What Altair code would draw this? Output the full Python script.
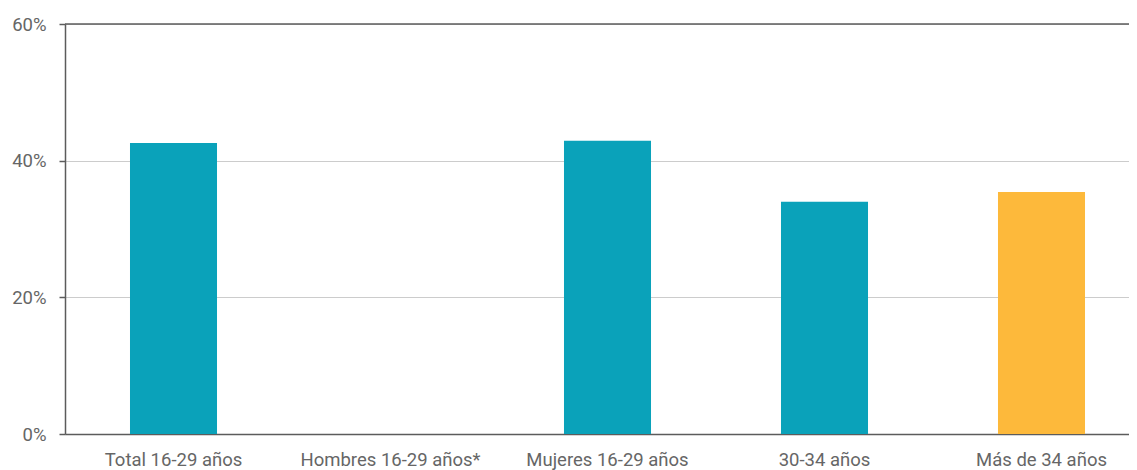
import altair as alt
import pandas as pd

categories = ["Total 16-29 años", "Hombres 16-29 años*", "Mujeres 16-29 años", "30-34 años", "Más de 34 años"]
values = [0.426, None, 0.429, 0.340, 0.354]
groups = ["16-34", "16-34", "16-34", "16-34", "35+"]
group_domain = ["16-34", "35+"]
group_colors = ["#0aa2ba", "#fdb93b"]
y_ticks = [0, 0.2, 0.4, 0.6]

df = pd.DataFrame({"categoria": categories, "valor": values, "grupo": groups})

FONT = "Roboto"
TXT = "#666666"
AX = "#5c5c5c"

x_enc = alt.X(
    "categoria:N",
    sort=categories,
    scale=alt.Scale(domain=categories, range=[0, 1085], paddingInner=0.599, paddingOuter=0.2995),
    axis=alt.Axis(
        title=None, labelAngle=0, ticks=False, domainColor=AX, domainWidth=1.5,
        labelFontSize=18.5, labelColor=TXT, labelFont=FONT, labelPadding=16,
        labelBaseline="top", labelLimit=400, labelOverlap=False,
    ),
)
y_enc = alt.Y(
    "valor:Q",
    scale=alt.Scale(domain=[0, 0.6], nice=False),
    axis=alt.Axis(
        title=None, format=".0%", values=y_ticks, tickSize=6, tickColor=AX, tickWidth=1.5,
        domainColor=AX, domainWidth=1.5, gridColor="#cccccc", gridWidth=1,
        labelFontSize=18.5, labelColor=TXT, labelFont=FONT, labelPadding=13,
    ),
)

bars = alt.Chart(df).mark_bar().encode(
    x=x_enc,
    y=y_enc,
    color=alt.Color("grupo:N", scale=alt.Scale(domain=group_domain, range=group_colors), legend=None),
)

top = pd.DataFrame({"y": [0.6]})
top_rule = alt.Chart(top).mark_rule(color=AX, strokeWidth=1.5).encode(
    y=alt.Y("y:Q"), x=alt.value(0), x2=alt.value(1085)
)

chart = alt.layer(bars, top_rule).properties(
    width=1064, height=410,
    autosize=alt.AutoSizeParams(type="none"),
    padding={"left": 57, "top": 16, "right": 0, "bottom": 44},
).configure_view(stroke=None).configure(background="white")

chart.save("out.html", embed_options={"renderer": "svg", "actions": False})
